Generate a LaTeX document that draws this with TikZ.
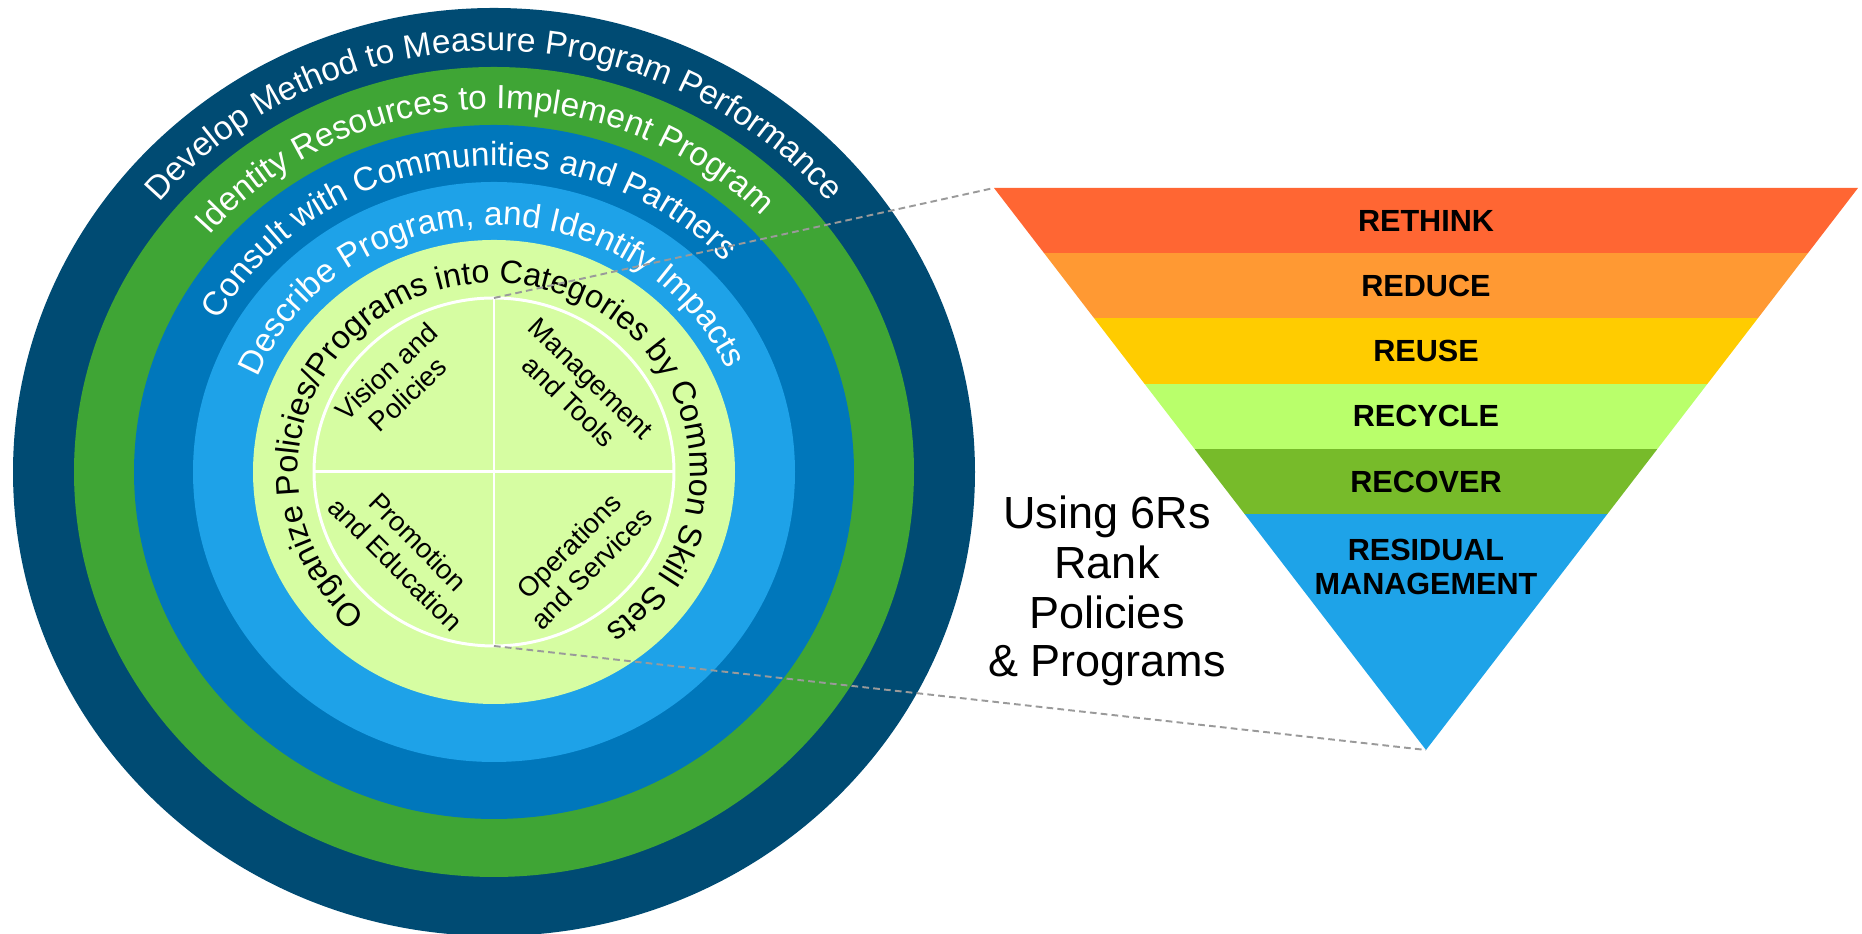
\documentclass[tikz,border=0pt]{standalone}
\usepackage{fontspec}
\setmainfont{Liberation Sans}
\usetikzlibrary{decorations.text}
\definecolor{ringA}{HTML}{004B73}
\definecolor{ringB}{HTML}{3FA535}
\definecolor{ringC}{HTML}{0077BB}
\definecolor{ringD}{HTML}{1EA2E8}
\definecolor{ringE}{HTML}{D6FDA2}
\definecolor{bandA}{HTML}{FF6633}
\definecolor{bandB}{HTML}{FF9933}
\definecolor{bandC}{HTML}{FFCC00}
\definecolor{bandD}{HTML}{B9FF6B}
\definecolor{bandE}{HTML}{77BB2A}
\definecolor{bandF}{HTML}{1EA3E8}
\definecolor{dashgrey}{HTML}{9A9A9A}
\newcommand\ringfont{\fontsize{9.5}{10}\selectfont}
\newcommand\innerringfont{\fontsize{9.2}{10}\selectfont}
\newcommand\quadfont{\fontsize{7.8}{9}\selectfont}
\newcommand\bandfont{\fontsize{8.7}{9.7}\selectfont\bfseries}
\newcommand\sidefont{\fontsize{12.8}{14}\selectfont}
\begin{document}
\begin{tikzpicture}[x=0.01cm,y=0.01cm,
  arctext/.style={decorate, decoration={text along path, text align=center}},
  quadlabel/.style={align=center, inner sep=0pt, font=\quadfont, text=black},
  bandlabel/.style={align=center, inner sep=0pt, font=\bandfont, text=black},
  sidelabel/.style={anchor=base, inner sep=0pt, font=\sidefont, text=black},
  divider/.style={draw=white, line width=0.85pt},
  guide/.style={draw=dashgrey, line width=0.55pt, dash pattern=on 1.9pt off 1.2pt}
]
\useasboundingbox (0,0) rectangle (1862,934);
\coordinate (C) at (494,462);

% rings
\fill[ringA] (C) ellipse [x radius=481, y radius=464];
\fill[ringB] (C) ellipse [x radius=420, y radius=405];
\fill[ringC] (C) ellipse [x radius=360, y radius=347];
\fill[ringD] (C) ellipse [x radius=301, y radius=290];
\fill[ringE] (C) ellipse [x radius=241, y radius=232];

% quadrant divider
\coordinate (qtop) at (494,636);
\coordinate (qbot) at (494,288);
\coordinate (qleft) at (314,462);
\coordinate (qright) at (674,462);
\draw[divider] (C) ellipse [x radius=180, y radius=174];
\draw[divider] (qtop) -- (qbot);
\draw[divider] (qleft) -- (qright);

% ring texts
\path[arctext, decoration={text={|\ringfont|Develop Method to Measure Program Performance}, text color=white}]
  ([shift={(180:436 and 421)}]C) arc[start angle=180, end angle=0, x radius=436, y radius=421];
\path[arctext, decoration={text={|\ringfont|Identity Resources to Implement Program}, text color=white}]
  ([shift={(182:376 and 363)}]C) arc[start angle=182, end angle=2, x radius=376, y radius=363];
\path[arctext, decoration={text={|\ringfont|Consult with Communities and Partners}, text color=white}]
  ([shift={(187:317 and 306)}]C) arc[start angle=187, end angle=7, x radius=317, y radius=306];
\path[arctext, decoration={text={|\ringfont|Describe Program, and Identify Impacts}, text color=white}]
  ([shift={(181:256 and 247)}]C) arc[start angle=181, end angle=1, x radius=256, y radius=247];
\path[arctext, decoration={text={|\innerringfont|Organize Policies/Programs into Categories by Common Skill Sets}, text color=black}]
  ([shift={(267:196 and 189)}]C) arc[start angle=267, end angle=-93, x radius=196, y radius=189];

% quadrant labels
\node[quadlabel, rotate=43] (vision) at (397,551) {Vision and\\Policies};
\node[quadlabel, rotate=-44] (mgmt) at (580,544) {Management\\and Tools};
\node[quadlabel, rotate=-45] (promo) at (407,381) {Promotion\\and Education};
\node[quadlabel, rotate=45] (ops) at (580,377) {Operations\\and Services};

% inverted triangle
\coordinate (tl) at (994,746);
\coordinate (tr) at (1858,746);
\coordinate (apex) at (1426,184);
\begin{scope}
  \clip (tl) -- (tr) -- (apex) -- cycle;
  \fill[bandA] (980,681) rectangle (1870,760);
  \fill[bandB] (980,616) rectangle (1870,681);
  \fill[bandC] (980,550) rectangle (1870,616);
  \fill[bandD] (980,485) rectangle (1870,550);
  \fill[bandE] (980,420) rectangle (1870,485);
  \fill[bandF] (980,170) rectangle (1870,420);
\end{scope}
\node[bandlabel] (rethink) at (1426,713) {RETHINK};
\node[bandlabel] (reduce) at (1426,648) {REDUCE};
\node[bandlabel] (reuse) at (1426,583) {REUSE};
\node[bandlabel] (recycle) at (1426,518) {RECYCLE};
\node[bandlabel] (recover) at (1426,452) {RECOVER};
\node[bandlabel] (residual) at (1426,367) {RESIDUAL\\MANAGEMENT};

% side caption
\node[sidelabel] (using) at (1107,405) {Using 6Rs};
\node[sidelabel] (rank) at (1107,355) {Rank};
\node[sidelabel] (policies) at (1107,305) {Policies};
\node[sidelabel] (programs) at (1107,257) {\& Programs};

% guide lines
\draw[guide] (qtop) -- (tl);
\draw[guide] (qbot) -- (apex);
\end{tikzpicture}
\end{document}
